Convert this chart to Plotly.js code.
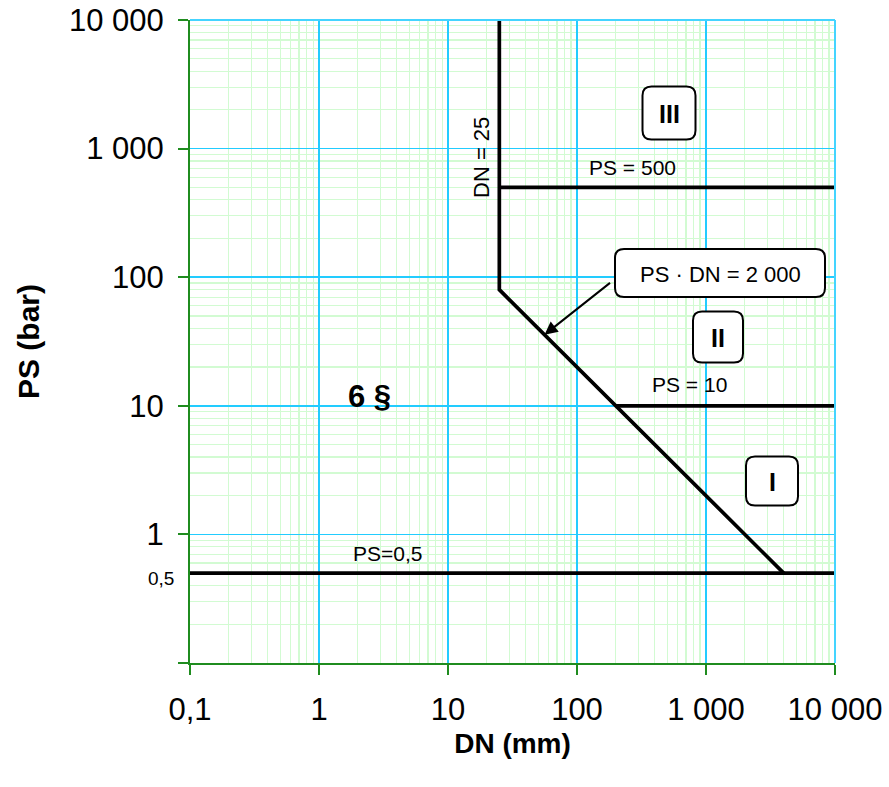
<!DOCTYPE html>
<html>
<head>
<meta charset="utf-8">
<script src="https://cdn.plot.ly/plotly-3.0.1.min.js"></script>
<style>html,body{margin:0;padding:0;background:#fff;}#chart{width:889px;height:787px;}</style>
</head>
<body>
<div id="chart"></div>
<script>
// ---- data ----
const tickVals = [0.1, 1, 10, 100, 1000, 10000];
const xTickText = ["0,1", "1", "10", "100", "1 000", "10 000"];
const yTickText = ["", "1", "10", "100", "1 000", "10 000"];

// boundary DN = 25 then PS·DN = 2000 down to PS = 0.5
const boundaryDN = [25, 25, 4000];
const boundaryPS = [10000, 80, 0.5];
// PS = 500
const line500DN = [25, 10000];
const line500PS = [500, 500];
// PS = 10
const line10DN = [200, 10000];
const line10PS = [10, 10];
// PS = 0.5
const line05DN = [0.1, 10000];
const line05PS = [0.5, 0.5];

// arrow target on PS·DN = 2000
const arrowDN = [56];
const arrowPS = [2000 / 56];

// ---- layout helpers ----
const M = {l: 190, r: 54, t: 20, b: 124};
const W = 889, H = 787;
const PW = W - M.l - M.r, PH = H - M.t - M.b;
const px2x = p => (p - M.l) / PW;
const px2y = p => (H - M.b - p) / PH;
const FONT = 'Liberation Sans, Arial, sans-serif';

function roundBox(cx, cy, w, h, r) {
  const x0 = px2x(cx - w / 2), x1 = px2x(cx + w / 2);
  const y0 = px2y(cy + h / 2), y1 = px2y(cy - h / 2);
  const rx = r / PW, ry = r / PH;
  const path = `M ${x0 + rx},${y0} L ${x1 - rx},${y0} Q ${x1},${y0} ${x1},${y0 + ry} ` +
    `L ${x1},${y1 - ry} Q ${x1},${y1} ${x1 - rx},${y1} L ${x0 + rx},${y1} ` +
    `Q ${x0},${y1} ${x0},${y1 - ry} L ${x0},${y0 + ry} Q ${x0},${y0} ${x0 + rx},${y0} Z`;
  return {type: 'path', xref: 'paper', yref: 'paper', path: path,
    line: {color: '#000', width: 2}, fillcolor: 'rgba(255,255,255,1)', layer: 'above'};
}

function txt(text, cx, cy, size, bold, extra) {
  return Object.assign({
    xref: 'paper', yref: 'paper', x: px2x(cx), y: px2y(cy),
    xanchor: 'center', yanchor: 'middle', showarrow: false,
    text: bold ? '<b>' + text + '</b>' : text,
    font: {family: FONT, size: size, color: '#000'}
  }, extra || {});
}

const lineStyle = {color: '#000', width: 3.7};
const traces = [
  {x: boundaryDN, y: boundaryPS, mode: 'lines', line: lineStyle, cliponaxis: false, hoverinfo: 'skip'},
  {x: line500DN, y: line500PS, mode: 'lines', line: lineStyle, cliponaxis: false, hoverinfo: 'skip'},
  {x: line10DN, y: line10PS, mode: 'lines', line: lineStyle, cliponaxis: false, hoverinfo: 'skip'},
  {x: line05DN, y: line05PS, mode: 'lines', line: lineStyle, cliponaxis: false, hoverinfo: 'skip'}
];

const axisCommon = {
  type: 'log', tickvals: tickVals, showline: true, linecolor: '#1f8c1f', linewidth: 2,
  ticks: 'outside', ticklen: 10, tickwidth: 2, tickcolor: '#1f8c1f',
  showgrid: true, gridcolor: '#22ccff', gridwidth: 1.5, zeroline: false,
  tickfont: {family: FONT, size: 31, color: '#000'},
  minor: {dtick: 'D1', showgrid: true, gridcolor: '#d2fbd2', gridwidth: 1.2, ticks: ''}
};

const layout = {
  width: W, height: H, margin: M, showlegend: false,
  paper_bgcolor: '#fff', plot_bgcolor: '#fff',
  xaxis: Object.assign({}, axisCommon, {
    range: [-1, 4], ticktext: xTickText, ticklabelstandoff: 8,
    title: {text: '<b>DN (mm)</b>', standoff: 7,
      font: {family: FONT, size: 28, color: '#000'}}
  }),
  yaxis: Object.assign({}, axisCommon, {
    range: [-1, 4], ticktext: yTickText, ticklabelstandoff: 8,
    title: {text: '<b>PS (bar)</b>', standoff: 20,
      font: {family: FONT, size: 30, color: '#000'}}
  }),
  shapes: [
    {type: 'line', xref: 'paper', yref: 'paper', x0: 0, x1: 1, y0: 1, y1: 1, line: {color: '#44d4ff', width: 2}},
    {type: 'line', xref: 'paper', yref: 'paper', x0: 1, x1: 1, y0: 0, y1: 1, line: {color: '#44d4ff', width: 2}},
    roundBox(669, 113, 53, 53, 9),
    roundBox(720, 273, 210, 48, 9),
    roundBox(718, 337, 50, 51, 9),
    roundBox(772, 481, 52, 49, 9)
  ],
  annotations: [
    txt('III', 669, 114, 25, true),
    txt('PS · DN = 2 000', 720, 274, 22, false),
    txt('II', 718, 338, 25, true),
    txt('I', 772, 482, 25, true),
    txt('PS = 500', 632, 167, 21, false),
    txt('PS = 10', 689, 384, 21, false),
    txt('PS=0,5', 387, 553, 21, false),
    txt('DN = 25', 481, 158, 22, false, {textangle: -90}),
    txt('6 §', 369, 396, 31, true),
    txt('0,5', 161, 578, 19, false),
    {x: Math.log10(arrowDN[0]), y: Math.log10(arrowPS[0]), xref: 'x', yref: 'y',
      text: '', showarrow: true, arrowhead: 2, arrowsize: 1.3, arrowwidth: 2, arrowcolor: '#000',
      ax: 67, ay: -53, standoff: 0}
  ]
};

Plotly.newPlot('chart', traces, layout, {staticPlot: true, displayModeBar: false});
</script>
</body>
</html>
